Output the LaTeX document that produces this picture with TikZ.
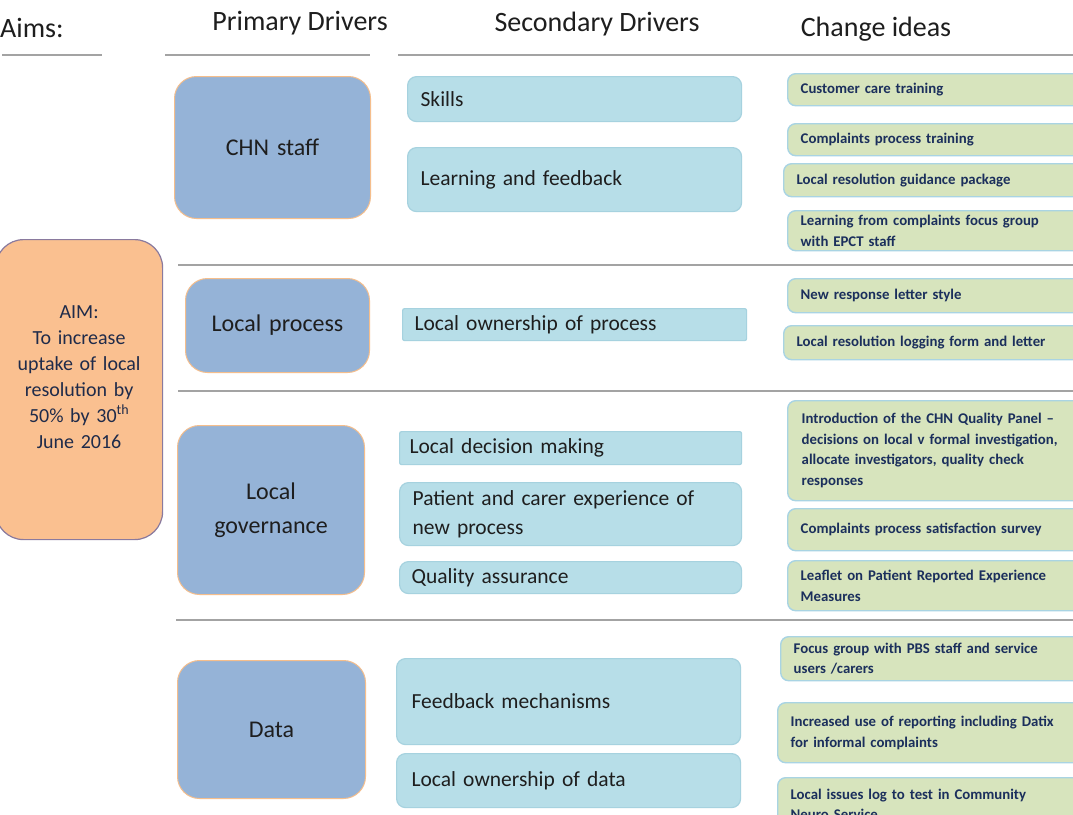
\documentclass[tikz,border=0pt]{standalone}
\usepackage{fontspec}
\setmainfont{Carlito}
\definecolor{primfill}{HTML}{95B3D7}
\definecolor{primedge}{HTML}{F5BE8C}
\definecolor{secfill}{HTML}{B7DEE8}
\definecolor{secedge}{HTML}{A6D2DF}
\definecolor{ideafill}{HTML}{D7E4BD}
\definecolor{ideaedge}{HTML}{A9D4E3}
\definecolor{aimfill}{HTML}{FAC090}
\definecolor{aimedge}{HTML}{8A7A9E}
\definecolor{rulegray}{HTML}{A3A3A3}
\definecolor{navy}{HTML}{1B2F5C}
\definecolor{aimtext}{HTML}{1F2B4A}
\definecolor{ink}{HTML}{1E1E1E}

% box from top-left (x1,y1) to bottom-right (x2,y2), text inset by pad
\newcommand\drawbox[8]{%
  \pgfmathsetmacro\bxw{#5-#3}%
  \pgfmathsetmacro\bxh{#6-#4}%
  \pgfmathsetmacro\bxt{#5-#3-2*#7}%
  \node[#2, anchor=north west, minimum width=\bxw pt, minimum height=\bxh pt,
        inner xsep=#7 pt, inner ysep=0pt, text width=\bxt pt] (#1) at (#3,#4) {#8};}

\tikzset{
  header/.style={font=\fontsize{28}{32}\selectfont, text=ink, inner sep=0pt},
  headrule/.style={draw=rulegray, line width=2.6pt},
  seprule/.style={draw=rulegray, line width=1.8pt},
  prim/.style={fill=primfill, draw=primedge, line width=1pt, rounded corners=22pt,
    align=center, text=ink, font=\fontsize{24}{34}\selectfont},
  sec/.style={fill=secfill, draw=secedge, line width=1.2pt, rounded corners=9pt,
    align=left, text=ink, font=\fontsize{21.5}{29}\selectfont},
  secsq/.style={sec, rounded corners=2pt},
  idea/.style={fill=ideafill, draw=ideaedge, line width=1.4pt, rounded corners=8pt,
    align=left, text=navy, font=\bfseries\fontsize{14.8}{20.5}\selectfont},
  aim/.style={fill=aimfill, draw=aimedge, line width=1.2pt, rounded corners=28pt,
    align=center, text=aimtext, font=\fontsize{20}{26}\selectfont},
}

\begin{document}
\begin{tikzpicture}[x=1pt, y=-1pt]
\useasboundingbox (0,0) rectangle (1073,814);
\clip (0,0) rectangle (1073,814);
\fill[white] (0,0) rectangle (1073,814);

% column headings and their rules
\node[header, anchor=base west] (hAims) at (0,37) {Aims:};
\node[header, anchor=base] (hPrim) at (300,30) {Primary Drivers};
\node[header, anchor=base] (hSec) at (597,31) {Secondary Drivers};
\node[header, anchor=base] (hIdea) at (876,36) {Change ideas};
\draw[headrule] (2,55) -- (102,55);
\draw[headrule] (165,55) -- (370,55);
\draw[headrule] (398,55) -- (1073,55);

% rules between driver groups
\draw[seprule] (178,265) -- (1073,265);
\draw[seprule] (178,391) -- (1073,391);
\draw[seprule] (176,620) -- (1073,620);

% aim (an empty last line lifts the text above the box centre)
\drawbox{aimbox}{aim}{-5}{239}{162}{539}{4}{AIM:\\To increase\\uptake of local\\resolution by\\50\% by 30\textsuperscript{th}\\June 2016\\\mbox{}}

% primary drivers
\drawbox{pStaff}{prim}{174}{76}{370}{218}{6}{CHN staff}
\drawbox{pProc}{prim}{185}{278}{369}{372}{6}{Local process}
\drawbox{pGov}{prim}{177}{425}{364}{594}{6}{Local\\governance}
\drawbox{pData}{prim}{177}{660}{365}{798}{6}{Data}

% secondary drivers
\drawbox{sSkills}{sec}{407}{76}{741}{121}{13}{Skills}
\drawbox{sLearn}{sec}{407}{147}{741}{211}{13}{Learning and feedback}
\drawbox{sOwnProc}{secsq}{402}{308}{746}{340}{12}{Local ownership of process}
\drawbox{sDecide}{secsq}{399}{431}{741}{464}{10}{Local decision making}
\drawbox{sPatient}{sec}{399}{482}{741}{545}{13}{Patient and carer experience of\\new process}
\drawbox{sQuality}{sec}{399}{561}{741}{593}{12}{Quality assurance}
\drawbox{sFeedback}{sec}{396}{658}{740}{744}{15}{Feedback mechanisms}
\drawbox{sOwnData}{sec}{396}{753}{740}{807}{15}{Local ownership of data}

% change ideas
\drawbox{c1}{idea}{787}{73}{1085}{105}{13}{Customer care training}
\drawbox{c2}{idea}{787}{123}{1085}{155}{13}{Complaints process training}
\drawbox{c3}{idea}{783}{163}{1085}{196}{13}{Local resolution guidance package}
\drawbox{c4}{idea}{787}{210}{1085}{250}{13}{Learning from complaints focus group\\with EPCT staff}
\drawbox{c5}{idea}{787}{278}{1085}{312}{13}{New response letter style}
\drawbox{c6}{idea}{783}{325}{1085}{359}{13}{Local resolution logging form and letter}
\drawbox{c7}{idea}{787}{400}{1085}{500}{14}{Introduction of the CHN Quality Panel –\\decisions on local v formal investigation,\\allocate investigators, quality check\\responses}
\drawbox{c8}{idea}{787}{508}{1085}{550}{13}{Complaints process satisfaction survey}
\drawbox{c9}{idea}{787}{560}{1085}{610}{13}{Leaflet on Patient Reported Experience\\Measures}
\drawbox{c10}{idea}{780}{636}{1085}{680}{13}{Focus group with PBS staff and service\\users /carers}
\drawbox{c11}{idea}{777}{702}{1085}{762}{13}{Increased use of reporting including Datix\\for informal complaints}
\drawbox{c12}{idea}{777}{777}{1085}{830}{13}{Local issues log to test in Community\\Neuro Service}
\end{tikzpicture}
\end{document}
